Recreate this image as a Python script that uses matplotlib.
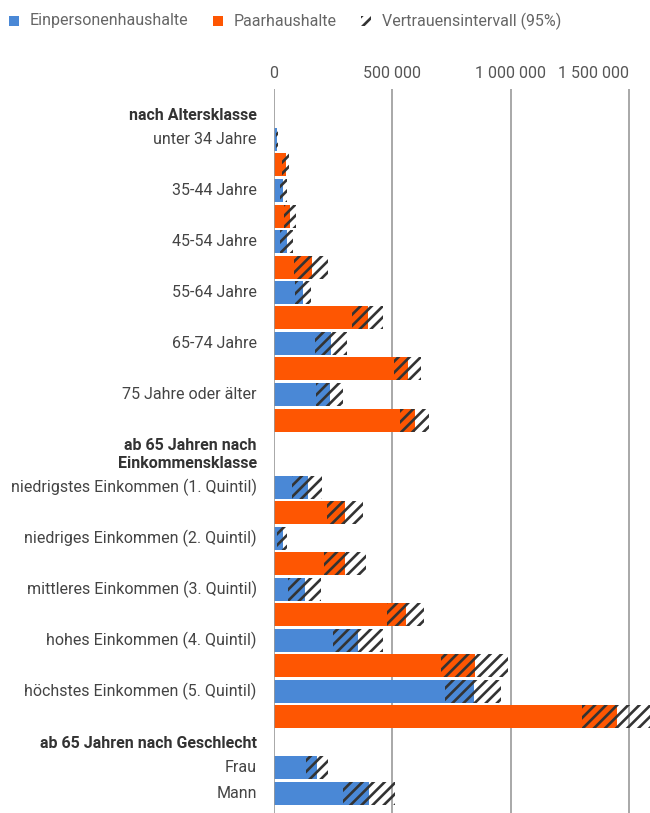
import matplotlib
matplotlib.use('Agg')
import matplotlib.pyplot as plt
from matplotlib.patches import Rectangle

plt.rcParams['font.family'] = ['Roboto', 'DejaVu Sans']
plt.rcParams['hatch.linewidth'] = 1.9

# Gruppen und Kategorien
gruppen = ['nach Altersklasse', 'ab 65 Jahren nach\nEinkommensklasse', 'ab 65 Jahren nach Geschlecht']
kategorien = [
    ['unter 34 Jahre', '35-44 Jahre', '45-54 Jahre', '55-64 Jahre', '65-74 Jahre', '75 Jahre oder älter'],
    ['niedrigstes Einkommen (1. Quintil)', 'niedriges Einkommen (2. Quintil)',
     'mittleres Einkommen (3. Quintil)', 'hohes Einkommen (4. Quintil)',
     'höchstes Einkommen (5. Quintil)'],
    ['Frau', 'Mann'],
]

# Einpersonenhaushalte: untere Grenze, Schätzwert, obere Grenze
ein_unten = [8000, 26000, 26000, 89000, 175000, 178000,
             77000, 15000, 61000, 251000, 722000,
             136000, 293000]
ein_wert = [14000, 40000, 54000, 124000, 240000, 237000,
            143000, 40000, 132000, 357000, 846000,
            184000, 402000]
ein_oben = [18000, 54000, 80000, 156000, 308000, 291000,
            202000, 54000, 198000, 460000, 957000,
            229000, 510000]

# Paarhaushalte (keine Werte nach Geschlecht)
paar_unten = [35000, 43000, 85000, 331000, 507000, 532000,
              226000, 213000, 479000, 705000, 1299000,
              None, None]
paar_wert = [50000, 68000, 163000, 396000, 565000, 596000,
             300000, 300000, 557000, 849000, 1449000,
             None, None]
paar_oben = [64000, 92000, 229000, 459000, 621000, 654000,
             375000, 389000, 635000, 987000, 1600000,
             None, None]

ticks = [0, 500000, 1000000, 1500000]
tick_labels = ['0', '500 000', '1 000 000', '1 500 000']

blau = '#4a88d6'
orange = '#fe5602'
schraffur = '#333333'
fs = 11.5

W, H = 650, 813
fig = plt.figure(figsize=(W / 100, H / 100), dpi=100)
x0 = 273.8
top = 89
ax = fig.add_axes([x0 / W, 0, (W - x0) / W, (H - top) / H])
px = 500000 / 118.5  # Wert pro Pixel
ax.set_xlim(0, (W - x0) * px)
ax.set_ylim(H, top)
for s in ax.spines.values():
    s.set_visible(False)
ax.set_yticks([])

ax.xaxis.tick_top()
ax.set_xticks(ticks)
ax.set_xticklabels(tick_labels, fontsize=fs, color='#555555')
ax.tick_params(axis='x', length=0, pad=6)
ax.get_xticklabels()[-1].set_ha('right')
for t in ticks:
    ax.axvline(t, color='#999999', lw=1.2, zorder=1 if t else 5)


def balken(y, unten, wert, oben, farbe):
    ax.barh(y, unten, height=23, color=farbe, linewidth=0, zorder=2)
    ax.barh(y, wert - unten, left=unten, height=23, facecolor=farbe,
            edgecolor=schraffur, hatch='///', linewidth=0, zorder=2)
    ax.barh(y, oben - wert, left=wert, height=23, facecolor='none',
            edgecolor=schraffur, hatch='///', linewidth=0, zorder=2)


x_lab = -17 * px
zeile = 25.5
extra = 16
y = 114
i = 0
for g, gruppe in enumerate(gruppen):
    n = gruppe.count('\n') + 1
    ax.text(x_lab, y + (n - 1) * extra / 2 + 1, gruppe, ha='right', va='center',
            fontsize=fs, fontweight='bold', color='#333333',
            linespacing=1.2, clip_on=False)
    y += zeile + (n - 1) * extra
    for kat in kategorien[g]:
        ax.text(x_lab, y, kat, ha='right', va='center', fontsize=fs,
                color='#444444', clip_on=False)
        balken(y, ein_unten[i], ein_wert[i], ein_oben[i], blau)
        y += zeile
        if paar_wert[i] is not None:
            balken(y, paar_unten[i], paar_wert[i], paar_oben[i], orange)
            y += zeile
        i += 1

# Legende
leg = [(9, 'Einpersonenhaushalte', blau, None),
       (213, 'Paarhaushalte', orange, None),
       (361, 'Vertrauensintervall (95%)', 'none', '///')]
for lx, txt, farbe, h in leg:
    fig.add_artist(Rectangle((lx / W, 1 - 26 / H), 10 / W, 10 / H,
                             transform=fig.transFigure, facecolor=farbe,
                             edgecolor=schraffur if h else 'none', hatch=h,
                             linewidth=0))
    fig.text((lx + 21) / W, 1 - 21 / H, txt, ha='left', va='center',
             fontsize=fs, color='#666666')

fig.savefig('out.png', dpi=100)
